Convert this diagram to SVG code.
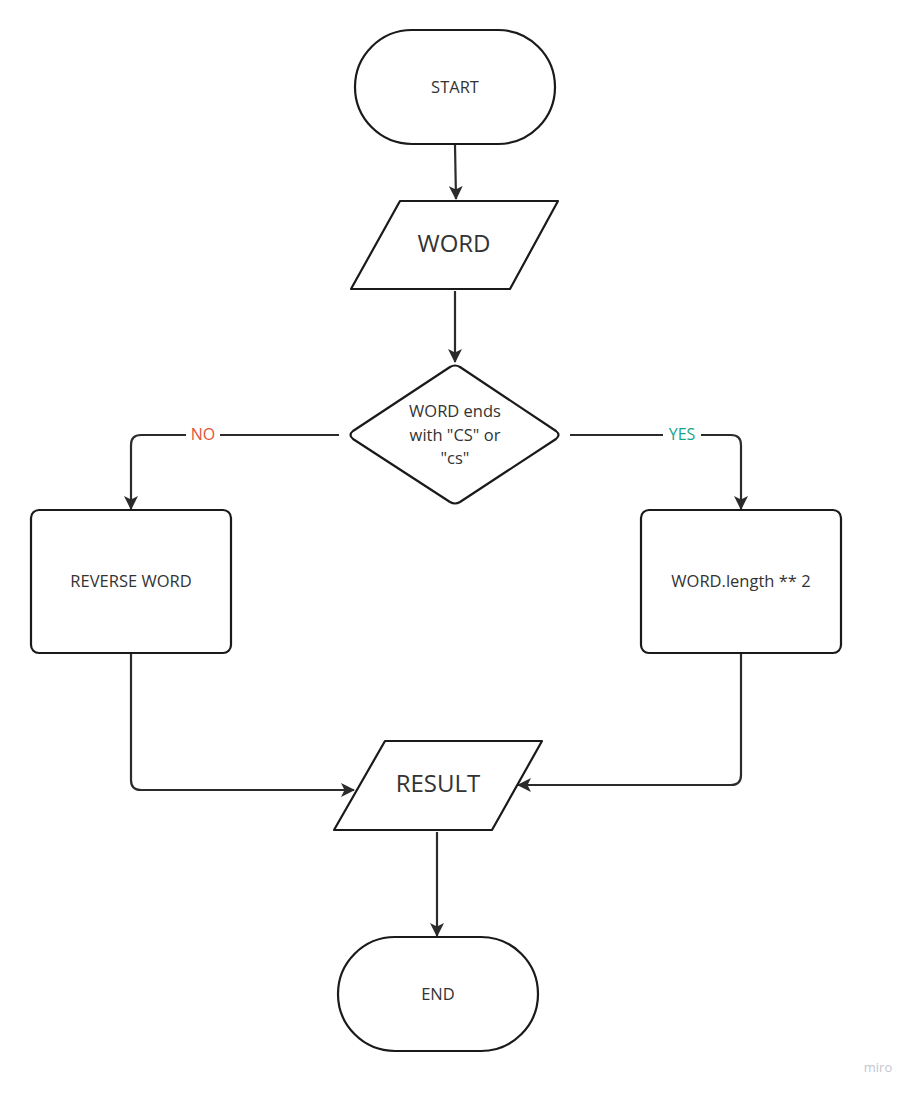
<svg xmlns="http://www.w3.org/2000/svg" width="914" height="1093" viewBox="0 0 914 1093">
<style>
.shape{fill:#fff;stroke:#1a1a1a;stroke-width:2.2;stroke-linejoin:round}
.conn{fill:none;stroke:#2b2b2b;stroke-width:2.2;stroke-linejoin:round}
.t{font-family:"Open Sans","Liberation Sans",sans-serif;fill:#333;text-anchor:middle;dominant-baseline:central}
.s{font-size:16.5px}
.l{font-size:24px}
.lab{font-family:"Open Sans","Liberation Sans",sans-serif;font-size:16px;text-anchor:middle;dominant-baseline:central}
</style>
<defs>
<marker id="arr" viewBox="0 0 14 14" refX="13" refY="7" markerWidth="14" markerHeight="14" markerUnits="userSpaceOnUse" orient="auto">
<path d="M0,0 L14,7 L0,14 L3.5,7 Z" fill="#2b2b2b"/>
</marker>
</defs>
<rect width="914" height="1093" fill="#fff"/>
<g id="connectors">
<path class="conn" d="M455,145 L456,199" marker-end="url(#arr)"/>
<path class="conn" d="M455,291 L455,362" marker-end="url(#arr)"/>
<path class="conn" d="M339,435 L141,435 Q131,435 131,445 L131,509" marker-end="url(#arr)"/>
<path class="conn" d="M570,435 L731,435 Q741,435 741,445 L741,509" marker-end="url(#arr)"/>
<path class="conn" d="M131,654 L131,780 Q131,790 141,790 L354,790" marker-end="url(#arr)"/>
<path class="conn" d="M741,654 L741,775 Q741,785 731,785 L518,785" marker-end="url(#arr)"/>
<path class="conn" d="M437,832 L437,936" marker-end="url(#arr)"/>
<rect x="186" y="424" width="34" height="22" fill="#fff"/>
<text class="lab" x="203" y="434" fill="#e0533b">NO</text>
<rect x="663" y="424" width="38" height="22" fill="#fff"/>
<text class="lab" x="682" y="434" fill="#17a589">YES</text>
</g>
<g id="start">
<rect class="shape" x="355" y="30" width="200" height="114" rx="57" ry="57"/>
<text class="t s" x="455" y="86">START</text>
</g>
<g id="word">
<polygon class="shape" points="400,201 558,201 510,289 351,289"/>
<text class="t l" x="454" y="242">WORD</text>
</g>
<g id="decision">
<path class="shape" d="M450,367 Q455,364 460,367 L556,431 Q561,435 556,439 L460,502 Q455,505 450,502 L353,439 Q348,435 353,431 Z"/>
<text class="t s" x="455" y="410">WORD ends</text>
<text class="t s" x="455" y="434">with "CS" or</text>
<text class="t s" x="455" y="457">"cs"</text>
</g>
<g id="reverse">
<rect class="shape" x="31" y="510" width="200" height="143" rx="8" ry="8"/>
<text class="t s" x="131" y="580">REVERSE WORD</text>
</g>
<g id="length">
<rect class="shape" x="641" y="510" width="200" height="143" rx="8" ry="8"/>
<text class="t s" x="741" y="580">WORD.length ** 2</text>
</g>
<g id="result">
<polygon class="shape" points="385,741 542,741 492,830 334,830"/>
<text class="t l" x="438" y="782">RESULT</text>
</g>
<g id="end">
<rect class="shape" x="338" y="937" width="200" height="114" rx="57" ry="57"/>
<text class="t s" x="438" y="993">END</text>
</g>
<text x="878" y="1072" font-family="'Open Sans','Liberation Sans',sans-serif" font-size="13" fill="#c4c6d0" text-anchor="middle">miro</text>
</svg>
